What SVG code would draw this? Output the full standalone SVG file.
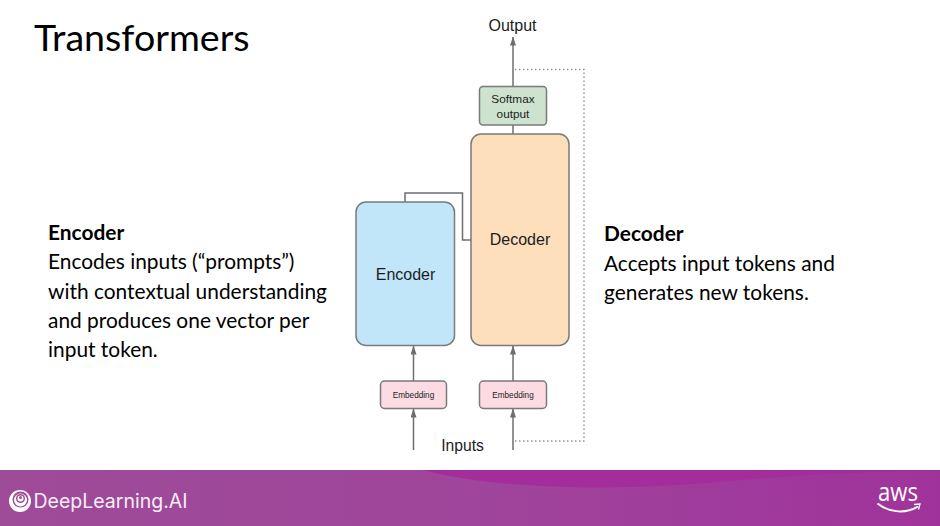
<svg xmlns="http://www.w3.org/2000/svg" width="940" height="526" viewBox="0 0 940 526">
<style>
.box{stroke:#7a7a7a;stroke-width:1.5}
.w{fill:none;stroke:#6e6e6e;stroke-width:1.5}
.dot{fill:none;stroke:#8c8c8c;stroke-width:1.3;stroke-dasharray:1.4 2.6}
.l{font-family:"Lato",sans-serif;fill:#000;font-size:20.9px}
.b{font-weight:700}
.a{font-family:"Liberation Sans",Arial,sans-serif;fill:#1c1c1c;text-anchor:middle}
</style>
<defs>
<linearGradient id="bar" x1="0" x2="1" y1="0" y2="0"><stop offset="0" stop-color="#9e4b98"/><stop offset="0.5" stop-color="#9f459b"/><stop offset="1" stop-color="#a0339b"/></linearGradient>
<marker id="arr" markerUnits="userSpaceOnUse" markerWidth="9" markerHeight="6" refX="8.500" refY="3" orient="auto"><path d="M0,0 L9,3 L0,6 Z" fill="#6e6e6e"/></marker>
</defs>
<rect width="940" height="526" fill="#fff"/>
<rect y="470" width="940" height="56" fill="url(#bar)"/>
<path d="M422,470 C500,490 620,492 740,480 C790,476 850,472 940,470 Z" fill="#a32d9a"/>
<text x="34" y="51" font-family="Lato, sans-serif" font-size="37.600" fill="#000">Transformers</text>
<g id="encoder-text">
<text class="l b" x="48" y="239.500">Encoder</text>
<text class="l" x="48" y="268.500">Encodes inputs (“prompts”)</text>
<text class="l" x="48" y="298.500">with contextual understanding</text>
<text class="l" x="48" y="328">and produces one vector per</text>
<text class="l" x="48" y="357">input token.</text>
</g>
<g id="decoder-text">
<text class="l b" x="604" y="241">Decoder</text>
<text class="l" x="604" y="271">Accepts input tokens and</text>
<text class="l" x="604" y="300">generates new tokens.</text>
</g>
<g id="connectors">
<path class="w" d="M513,86 V37" marker-end="url(#arr)"/>
<path class="w" d="M513,125 V134"/>
<path class="w" d="M405,202 V193 H462.500 V240 H471"/>
<path class="w" d="M413.500,381 V346" marker-end="url(#arr)"/>
<path class="w" d="M513,381 V346" marker-end="url(#arr)"/>
<path class="w" d="M413.500,450 V409" marker-end="url(#arr)"/>
<path class="w" d="M513,450 V409" marker-end="url(#arr)"/>
<path class="dot" d="M515,69.500 H584 V441 H515"/>
</g>
<g id="softmax"><rect class="box" x="479.500" y="86.500" width="67" height="38.500" rx="3.500" fill="#cde3cf"/>
<text class="a" x="513" y="103" font-size="11.800">Softmax</text><text class="a" x="513" y="117.500" font-size="11.800">output</text></g>
<g id="decoder"><rect class="box" x="471" y="134" width="98" height="211.500" rx="10" fill="#fedfbc"/>
<text class="a" x="520" y="245" font-size="16">Decoder</text></g>
<g id="encoder"><rect class="box" x="356" y="202" width="98.500" height="143.500" rx="10" fill="#c2e6f9"/>
<text class="a" x="405.500" y="280" font-size="16">Encoder</text></g>
<g id="embedding-left"><rect class="box" x="380.500" y="381" width="66" height="27.500" rx="4" fill="#fcdbe3"/>
<text class="a" x="413.500" y="398" font-size="8.200">Embedding</text></g>
<g id="embedding-right"><rect class="box" x="479.500" y="381" width="67" height="27.500" rx="4" fill="#fcdbe3"/>
<text class="a" x="513" y="398" font-size="8.200">Embedding</text></g>
<g id="labels">
<text class="a" x="512.500" y="31" font-size="16">Output</text>
<text class="a" x="462.500" y="451" font-size="15.700">Inputs</text>
</g>
<g id="logo-deeplearning" fill="#fff">
<circle cx="20" cy="501" r="11"/>
<circle cx="20.500" cy="499.500" r="8" fill="#9e4b98"/>
<circle cx="20.500" cy="500" r="6.500"/>
<circle cx="20.500" cy="498.500" r="4.500" fill="#9e4b98"/>
<circle cx="20.500" cy="498.500" r="3"/>
<circle cx="20.500" cy="497.500" r="1.500" fill="#9e4b98"/>
<text x="33.500" y="508" font-family="Inter, 'Open Sans', sans-serif" font-size="19.500" fill="#f8eef7">DeepLearning.AI</text>
</g>
<g id="logo-aws">
<text x="878" y="501" font-family="Open Sans, sans-serif" font-size="26" fill="#fff" textLength="40" lengthAdjust="spacingAndGlyphs">aws</text>
<path d="M877.500,503.500 C890,513 906,514 918,506.500" fill="none" stroke="#fff" stroke-width="2"/>
<path d="M914,504.500 L920,504 L918.500,509.500" fill="none" stroke="#fff" stroke-width="1.300"/>
</g>
</svg>
